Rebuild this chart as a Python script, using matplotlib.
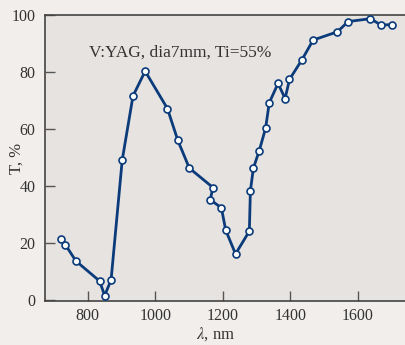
import matplotlib
matplotlib.use("Agg")
import matplotlib.pyplot as plt

# transmission of V:YAG sample
wavelength = [720, 733, 765, 835, 850, 869, 902, 934, 970, 1036, 1067, 1101,
              1171, 1163, 1196, 1209, 1238, 1279, 1282, 1291, 1308, 1327, 1338,
              1364, 1385, 1398, 1435, 1468, 1540, 1572, 1638, 1669, 1701]
transmission = [21.4, 19.4, 13.6, 6.6, 1.5, 7.0, 49.0, 71.5, 80.2, 67.1, 55.9, 46.2,
                39.4, 35.1, 32.3, 24.4, 16.1, 24.1, 38.2, 46.2, 52.2, 60.1, 69.1,
                75.9, 70.6, 77.3, 84.2, 91.1, 94.0, 97.6, 98.6, 96.4, 96.5]
x_ticks = [800, 1000, 1200, 1400, 1600]
y_ticks = [0, 20, 40, 60, 80, 100]
label_text = "V:YAG, dia7mm, Ti=55%"

plt.rcParams['font.family'] = ['Liberation Serif', 'DejaVu Serif']
plt.rcParams['mathtext.fontset'] = 'stix'

fig = plt.figure(figsize=(4.06, 3.45), dpi=100, facecolor='#f1eeec')
ax = fig.add_axes([0.1116, 0.1267, 0.898, 0.8307])
ax.set_facecolor('#e7e3e1')

ax.plot(wavelength, transmission, color='#0b3b7a', lw=2.0,
        marker='o', ms=5, mfc='white', mec='#0b3b7a', mew=1.2, zorder=3)

ax.set_xlim(674, 1755)
ax.set_ylim(-0.5, 100)
ax.set_xticks(x_ticks)
ax.set_yticks(y_ticks)
ax.tick_params(direction='in', length=7, width=1, colors='#555555',
               labelcolor='#333333', labelsize=11.5)
ax.tick_params(axis='x', pad=5)
ax.tick_params(axis='y', pad=7)

for side in ['left', 'bottom', 'top']:
    ax.spines[side].set_color('#444444')
    ax.spines[side].set_linewidth(1.2)
ax.spines['right'].set_visible(False)

ax.set_ylabel('T, %', fontsize=12, color='#333333')
ax.yaxis.set_label_coords(-0.056, 0.5)
ax.set_xlabel(r'$\lambda$, nm', fontsize=12, color='#333333')
ax.xaxis.set_label_coords(0.468, -0.083)

ax.text(804, 86.7, label_text, fontsize=12.5, color='#333333', va='center')

fig.savefig('out.png', dpi=100, facecolor=fig.get_facecolor())
